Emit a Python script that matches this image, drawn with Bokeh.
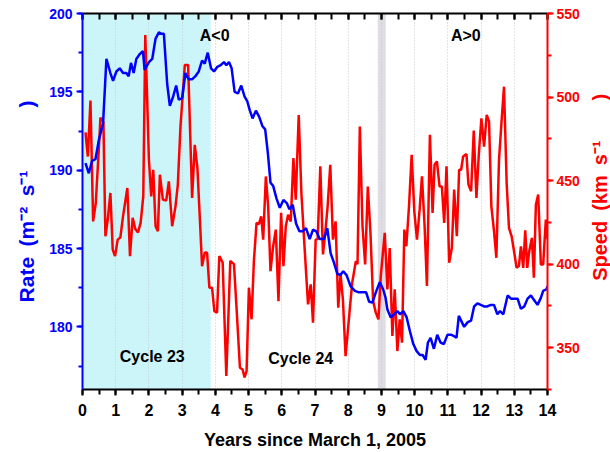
import math
from bokeh.plotting import figure
from bokeh.layouts import row
from bokeh.models import (LinearAxis, Range1d, SingleIntervalTicker, Grid, BoxAnnotation, Label)
from bokeh.embed import file_html
from bokeh.resources import INLINE

# ---- data ----
rate_x = [0.09, 0.19, 0.29, 0.39, 0.49, 0.62, 0.72, 0.84, 0.92, 1.02, 1.12, 1.22, 1.32, 1.39, 1.46,
          1.54, 1.62, 1.72, 1.82, 1.87, 2.0, 2.1, 2.2, 2.3, 2.37, 2.45, 2.55, 2.63, 2.73, 2.82, 2.9,
          3.0, 3.1, 3.2, 3.3, 3.4, 3.5, 3.6, 3.68, 3.77, 3.87, 3.96, 4.06, 4.16, 4.26, 4.33, 4.41,
          4.49, 4.58, 4.68, 4.78, 4.88, 4.96, 5.04, 5.12, 5.22, 5.32, 5.42, 5.5, 5.58, 5.66, 5.74,
          5.84, 5.94, 6.05, 6.15, 6.23, 6.33, 6.43, 6.53, 6.63, 6.73, 6.84, 6.94, 7.04, 7.14, 7.27,
          7.37, 7.47, 7.57, 7.67, 7.76, 7.85, 7.95, 8.07, 8.2, 8.32, 8.44, 8.54, 8.63, 8.73, 8.83,
          8.95, 9.05, 9.12, 9.18, 9.28, 9.38, 9.48, 9.56, 9.66, 9.76, 9.86, 9.96, 10.06, 10.16, 10.24,
          10.33, 10.4, 10.48, 10.58, 10.68, 10.78, 10.88, 10.99, 11.09, 11.19, 11.26, 11.33, 11.41,
          11.49, 11.6, 11.7, 11.79, 11.89, 11.99, 12.09, 12.19, 12.29, 12.39, 12.49, 12.57, 12.67,
          12.8, 12.9, 13.0, 13.1, 13.2, 13.3, 13.4, 13.5, 13.6, 13.7, 13.8, 13.87, 13.97, 14.0]
rate = [190.45, 189.8, 190.6, 190.7, 191.9, 193.0, 197.1, 196.2, 195.7, 196.3, 196.5, 196.2, 196.2,
        196.0, 196.85, 196.2, 197.1, 197.4, 197.6, 196.4, 196.9, 197.1, 198.4, 198.8, 198.7, 198.7,
        195.5, 194.1, 194.7, 195.4, 194.5, 194.6, 196.2, 195.8, 195.8, 196.0, 196.3, 197.0, 196.8,
        197.5, 196.5, 196.3, 196.6, 196.7, 196.9, 196.7, 196.9, 196.5, 195.0, 194.9, 195.4, 194.7,
        194.4, 193.8, 193.3, 193.8, 193.4, 192.8, 192.6, 191.1, 189.2, 189.0, 188.2, 187.6, 188.1,
        187.9, 187.5, 187.8, 186.6, 186.1, 186.1, 186.3, 185.6, 186.2, 186.1, 185.6, 185.6, 186.3,
        184.7, 184.1, 183.4, 183.3, 183.55, 183.3, 182.6, 182.3, 182.2, 182.2, 182.2, 181.6, 181.55,
        182.2, 182.85, 182.4, 181.9, 181.1, 180.6, 180.8, 181.0, 180.8, 181.0, 180.6, 179.7, 178.9,
        178.45, 178.2, 178.2, 177.9, 179.0, 179.3, 178.6, 179.5, 179.0, 178.9, 179.5, 179.5, 179.4,
        179.3, 180.7, 180.35, 180.0, 180.3, 180.4, 181.3, 181.5, 181.4, 181.3, 181.3, 181.4, 181.4,
        180.8, 181.0, 180.8, 182.0, 181.8, 181.8, 181.8, 181.15, 181.3, 181.8, 182.0, 181.7, 181.4,
        181.85, 182.3, 182.4, 182.6]

speed_x = [0.09, 0.16, 0.24, 0.32, 0.40, 0.49, 0.54, 0.63, 0.69, 0.76, 0.84, 0.91, 0.98, 1.06, 1.14,
           1.22, 1.35, 1.43, 1.51, 1.59, 1.67, 1.75, 1.83, 1.89, 2.0, 2.07, 2.13, 2.20, 2.27, 2.33,
           2.42, 2.52, 2.60, 2.70, 2.80, 2.87, 2.95, 3.08, 3.18, 3.30, 3.38, 3.46, 3.53, 3.60, 3.68,
           3.75, 3.82, 3.90, 3.97, 4.05, 4.12, 4.22, 4.33, 4.45, 4.56, 4.64, 4.74, 4.82, 4.88, 4.94,
           5.01, 5.09, 5.16, 5.24, 5.31, 5.38, 5.44, 5.52, 5.59, 5.66, 5.74, 5.82, 5.90, 5.98, 6.05,
           6.12, 6.19, 6.27, 6.35, 6.42, 6.51, 6.59, 6.69, 6.79, 6.87, 6.94, 7.02, 7.08, 7.16, 7.24,
           7.32, 7.38, 7.46, 7.54, 7.62, 7.70, 7.77, 7.84, 7.92, 8.02, 8.12, 8.23, 8.28, 8.35, 8.43,
           8.51, 8.59, 8.67, 8.75, 8.83, 8.91, 8.98, 9.10, 9.18, 9.25, 9.33, 9.40, 9.48, 9.55, 9.62,
           9.69, 9.75, 9.83, 9.91, 9.99, 10.07, 10.15, 10.22, 10.30, 10.37, 10.46, 10.54, 10.60, 10.67,
           10.75, 10.82, 10.89, 10.96, 11.04, 11.12, 11.19, 11.27, 11.34, 11.40, 11.46, 11.56, 11.62,
           11.70, 11.78, 11.86, 11.93, 12.01, 12.09, 12.17, 12.24, 12.31, 12.39, 12.46, 12.54, 12.62,
           12.69, 12.77, 12.84, 12.92, 13.00, 13.07, 13.14, 13.20, 13.27, 13.33, 13.39, 13.45, 13.53,
           13.59, 13.65, 13.72, 13.80, 13.87, 13.95, 14.0]
speed = [478.8, 464.4, 497.9, 425.6, 436.6, 468.4, 487.7, 485.0, 416.7, 426.7, 442.6, 408.7, 404.8,
         414.7, 416.0, 428.6, 445.6, 404.8, 427.7, 421.0, 419.0, 424.7, 440.6, 537.1, 462.5, 440.6,
         456.5, 422.7, 419.7, 453.5, 438.6, 438.0, 449.5, 422.7, 434.6, 447.6, 482.4, 519.2, 519.2,
         439.6, 471.4, 457.5, 428.6, 398.8, 406.8, 407.0, 385.9, 385.9, 371.9, 371.0, 404.8, 401.0,
         333.1, 402.0, 400.0, 373.0, 338.0, 337.0, 332.2, 336.0, 385.9, 367.0, 401.8, 424.7, 424.0,
         428.6, 414.7, 452.5, 434.6, 395.8, 410.7, 420.7, 377.9, 430.7, 398.8, 422.7, 429.6, 425.5,
         463.5, 438.6, 489.3, 442.6, 408.7, 375.9, 387.9, 365.0, 414.7, 415.0, 458.5, 405.8, 421.0,
         434.6, 459.5, 414.7, 425.6, 374.0, 393.8, 379.0, 345.0, 367.0, 388.9, 401.8, 400.0, 482.4,
         422.7, 399.8, 446.5, 418.7, 377.9, 371.0, 367.0, 392.8, 418.7, 384.9, 409.7, 357.0, 384.9,
         348.0, 367.0, 353.0, 420.7, 410.7, 434.6, 465.5, 431.6, 414.7, 432.6, 452.5, 422.7, 386.9,
         477.4, 430.7, 459.5, 461.5, 446.5, 446.5, 424.7, 458.5, 400.8, 409.7, 444.6, 416.7, 456.5,
         456.5, 464.4, 465.9, 447.6, 443.6, 480.0, 439.6, 465.0, 487.3, 470.4, 489.3, 485.4, 434.6,
         419.7, 403.8, 462.5, 486.4, 506.2, 448.6, 421.7, 416.7, 406.8, 397.8, 399.0, 410.7, 397.8,
         420.3, 397.8, 407.7, 415.7, 391.9, 435.6, 441.6, 399.8, 399.8, 426.7, 415.0]

cycle23_end = 3.86
gray_band = (8.89, 9.13)

FONT = "Liberation Sans"
BLUE = "#0000FF"
RED = "#FF0000"
SP = "\u2002"
EM = "\u2003"

p = figure(width=588, height=452, x_range=(0, 14), y_range=(176, 200),
           output_backend="svg", toolbar_location=None,
           x_axis_location=None, y_axis_location=None,
           min_border_left=82, min_border_right=41, min_border_top=13, min_border_bottom=62)
p.extra_y_ranges = {"speed": Range1d(325, 550)}
p.outline_line_color = None
p.grid.visible = False
p.background_fill_color = "white"

# shaded regions
p.add_layout(BoxAnnotation(left=0, right=cycle23_end, fill_color="#CCF5FA", fill_alpha=1.0,
                           line_color=None, level="image"))
p.add_layout(BoxAnnotation(left=gray_band[0], right=gray_band[1], fill_color="#E0DCE4",
                           fill_alpha=1.0, line_color=None, level="image"))

# vertical dotted grid
vg = Grid(dimension=0, ticker=SingleIntervalTicker(interval=1),
          grid_line_color="#C8C8C8", grid_line_dash="1 2", grid_line_width=1)
p.add_layout(vg)

# series
p.line(speed_x, speed, color=RED, line_width=2.5, y_range_name="speed")
p.line(rate_x, rate, color=BLUE, line_width=2.5)

def style_axis(ax, color, label_size):
    ax.axis_line_color = color
    ax.axis_line_width = 2
    ax.major_tick_line_color = color
    ax.major_tick_line_width = 2
    ax.minor_tick_line_color = color
    ax.minor_tick_line_width = 2
    ax.major_label_text_color = color
    ax.major_label_text_font = FONT
    ax.major_label_text_font_style = "bold"
    ax.major_label_text_font_size = label_size
    ax.axis_label_text_color = color
    ax.axis_label_text_font = FONT
    ax.axis_label_text_font_style = "bold"
    ax.axis_label_text_font_size = "20px"

# bottom axis
xb = LinearAxis(ticker=SingleIntervalTicker(interval=1, num_minor_ticks=2),
                axis_label="Years since March 1, 2005")
style_axis(xb, "black", "16px")
xb.axis_label_text_font_size = "18px"
xb.major_tick_in = 0
xb.major_tick_out = 6
xb.minor_tick_in = 0
xb.minor_tick_out = 5
xb.major_label_standoff = 8
xb.axis_label_standoff = 11
p.add_layout(xb, "below")

# top axis (ticks inside, no labels)
xt = LinearAxis(ticker=SingleIntervalTicker(interval=1, num_minor_ticks=2))
style_axis(xt, "black", "0px")
xt.major_label_text_alpha = 0
xt.major_tick_in = 6
xt.major_tick_out = 0
xt.minor_tick_in = 6
xt.minor_tick_out = 0
xt.major_label_standoff = 0
p.add_layout(xt, "above")

# left axis
yl = LinearAxis(ticker=SingleIntervalTicker(interval=5, num_minor_ticks=2),
                axis_label="Rate" + SP + "(m\u207b\u00b2" + SP + "s\u207b\u00b9" + EM + EM + EM + ")")
style_axis(yl, BLUE, "14px")
yl.axis_label_text_font_size = "21px"
yl.major_tick_in = 0
yl.major_tick_out = 6
yl.minor_tick_in = 0
yl.minor_tick_out = 4
yl.major_label_standoff = 4
yl.axis_label_standoff = 8
p.add_layout(yl, "left")

# right axis (its title is drawn in a narrow side panel, reading bottom-to-top)
yr = LinearAxis(y_range_name="speed",
                ticker=SingleIntervalTicker(interval=50, num_minor_ticks=2))
style_axis(yr, RED, "14px")
yr.major_tick_in = 0
yr.major_tick_out = 6
yr.minor_tick_in = 0
yr.minor_tick_out = 4
yr.major_label_standoff = 3
p.add_layout(yr, "right")

# annotations
for txt, x, y in [("A<0", 3.98, 198.6), ("A>0", 11.54, 198.6),
                  ("Cycle 23", 2.1, 178.1), ("Cycle 24", 6.57, 178.0)]:
    p.add_layout(Label(x=x, y=y, text=txt, text_align="center", text_baseline="middle",
                       text_font=FONT, text_font_style="bold", text_font_size="16px",
                       text_color="black"))

# side panel holding the right-axis title
speed_title = "Speed" + SP + "(km" + SP + "s\u207b\u00b9" + EM + EM + ")"
side = figure(width=22, height=452, x_range=(0, 1), y_range=(0, 452),
              output_backend="svg", toolbar_location=None,
              x_axis_location=None, y_axis_location=None, min_border=0)
side.outline_line_color = None
side.grid.visible = False
side.add_layout(Label(x=0.5, y=243, angle=math.pi / 2, text=speed_title,
                      text_align="center", text_baseline="middle",
                      text_font=FONT, text_font_style="bold", text_font_size="20px",
                      text_color=RED))

layout = row(p, side, spacing=0)
open("out.html", "w").write(file_html(layout, INLINE))
